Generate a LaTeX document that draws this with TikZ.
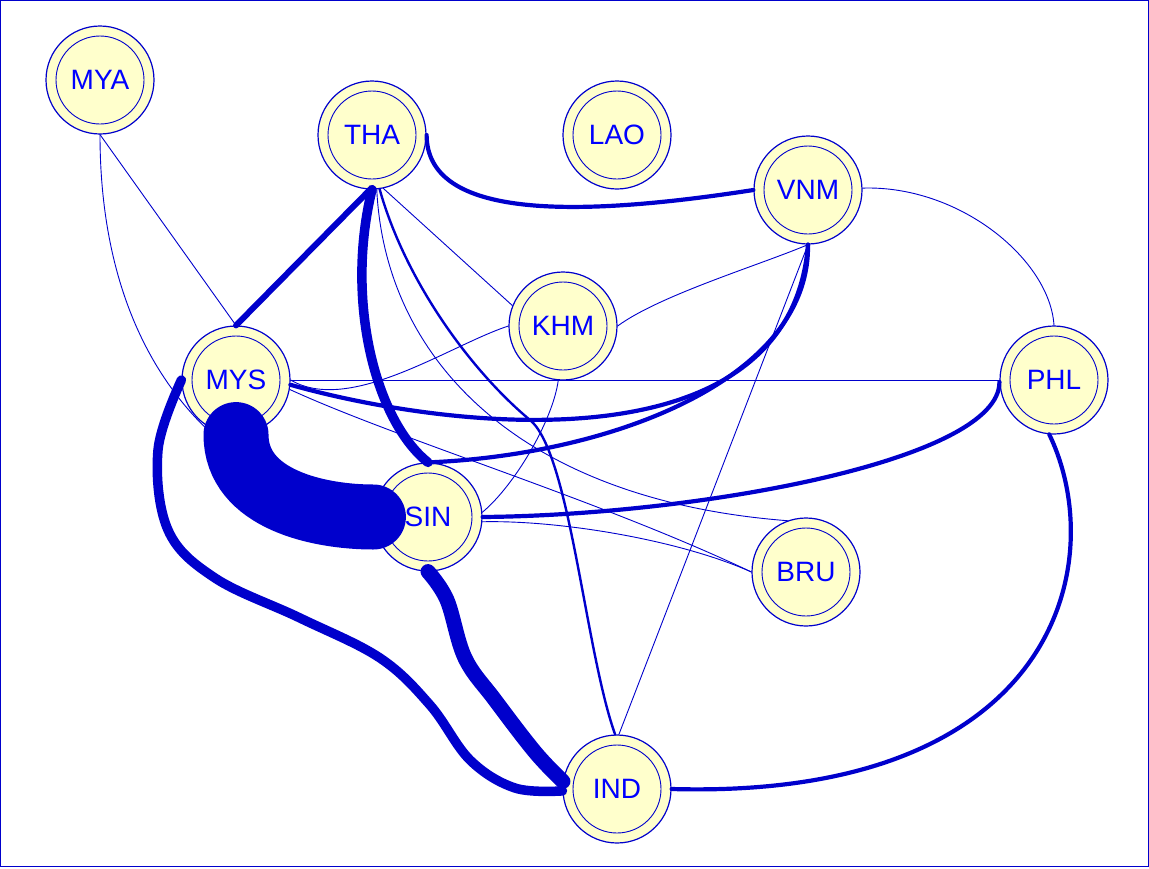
\documentclass[tikz,border=0pt]{standalone}
\usepackage{fontspec}
\setmainfont{Liberation Sans}
\definecolor{eb}{RGB}{0,0,204}
\definecolor{nf}{RGB}{255,255,204}
\definecolor{tb}{RGB}{0,0,255}
\begin{document}
\begin{tikzpicture}[x=1pt,y=-1pt,
  country/.style={circle,draw=eb,line width=1.2pt,fill=nf,minimum size=108pt,inner sep=0pt,
    text=tb,font=\fontsize{28}{32}\selectfont,
    path picture={\draw[eb,line width=0.9pt] (path picture bounding box.center) circle (44pt);}},
  link/.style={draw=eb,line cap=round},
  wA/.style={link,line width=0.9pt},
  wB/.style={link,line width=2.4pt},
  wC/.style={link,line width=4.2pt},
  wD/.style={link,line width=6pt},
  wE/.style={link,line width=9.5pt},
  wF/.style={link,line width=15pt},
  wG/.style={link,line width=65pt}]
\useasboundingbox (0,0) rectangle (1149,868);
\draw[eb,line width=1pt] (0.5,0.5) rectangle (1148.5,866.5);
% nodes
\node[country] (MYA) at (100,80) {MYA};
\node[country] (THA) at (372,135) {THA};
\node[country] (LAO) at (617,135) {LAO};
\node[country] (VNM) at (808,190) {VNM};
\node[country] (KHM) at (563,326) {KHM};
\node[country] (MYS) at (236,380) {MYS};
\node[country] (PHL) at (1054,380) {PHL};
\node[country] (SIN) at (428,517) {SIN};
\node[country] (BRU) at (806,572) {BRU};
\node[country] (IND) at (617,789) {IND};
\coordinate (thaBend) at (530,420);
% thin links
\draw[wA] (MYA.270) -- (MYS.90);
\draw[wA] (MYA.270) .. controls (100,320) and (180,470) .. (SIN.180);
\draw[wA] (THA.282) -- (KHM.158);
\draw[wA] (THA.275) .. controls (385,360) and (520,500) .. (BRU.110);
\draw[wA] (MYS.0) -- (PHL.180);
\draw[wA] (MYS.0) .. controls (350,415) and (450,345) .. (KHM.180);
\draw[wA] (MYS.350) .. controls (400,440) and (600,500) .. (BRU.180);
\draw[wA] (VNM.270) .. controls (760,265) and (660,295) .. (KHM.0);
\draw[wA] (VNM.270) -- (IND.88);
\draw[wA] (VNM.2) .. controls (960,185) and (1050,260) .. (PHL.90);
\draw[wA] (KHM.265) .. controls (553,420) and (515,485) .. (SIN.5);
\draw[wA] (SIN.355) .. controls (560,520) and (680,540) .. (BRU.180);
% medium
\draw[wB] (THA.278) .. controls (405,280) and (470,370) .. (thaBend)
  .. controls (570,453) and (585,650) .. (IND.92);
% thick
\draw[wC] (THA.0) .. controls (427,215) and (560,220) .. (VNM.180);
\draw[wC] (MYS.355) .. controls (450,430) and (790,470) .. (VNM.270);
\draw[wC] (VNM.270) .. controls (810,380) and (610,455) .. (SIN.90);
\draw[wC] (SIN.0) .. controls (700,515) and (1000,460) .. (PHL.182);
\draw[wC] (PHL.265) .. controls (1110,560) and (1060,800) .. (IND.0);
\draw[wD] (THA.268) -- (MYS.90);
\draw[wE] (THA.270) .. controls (345,300) and (375,420) .. (SIN.90);
\draw[wE] plot[smooth,tension=0.6] coordinates {(MYS.180) (158,450) (168,530) (215,578) (300,618) (380,658) (430,705) (470,760) (515,788) (IND.182)};
\draw[wF] plot[smooth,tension=0.6] coordinates {(SIN.270) (447,600) (465,658) (495,700) (535,752) (IND.172)};
\draw[wG] (MYS.270) .. controls (236,500) and (320,517) .. (SIN.180);
\end{tikzpicture}
\end{document}
